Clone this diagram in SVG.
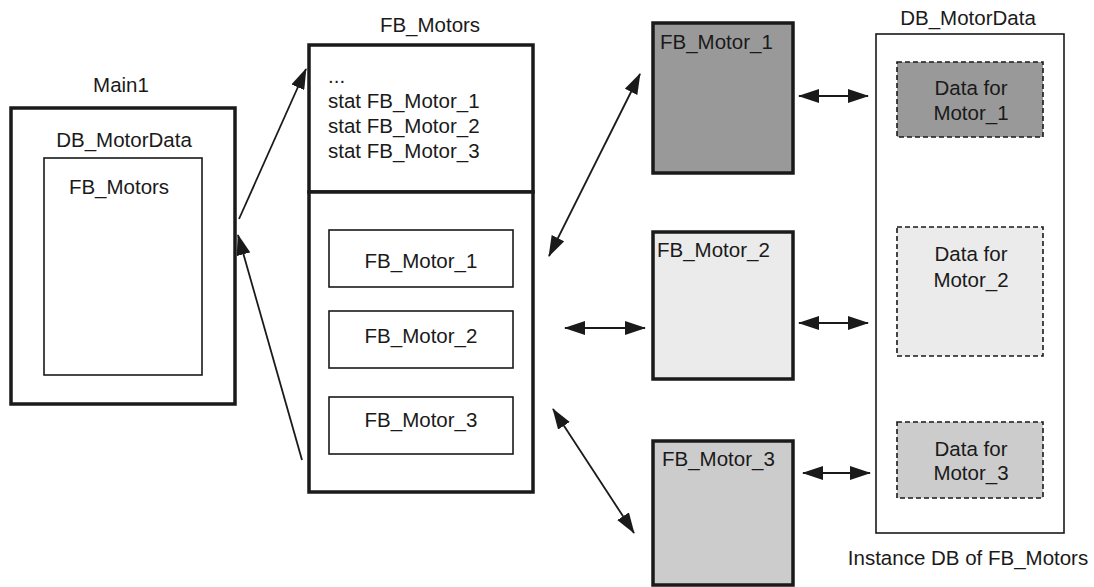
<svg xmlns="http://www.w3.org/2000/svg" width="1094" height="587" viewBox="0 0 1094 587">
<defs>
<style>
text{font-family:"Liberation Sans",Arial,sans-serif;font-size:20.5px;fill:#1a1a1a}
.c{text-anchor:middle}
.thick{fill:#fff;stroke:#1a1a1a;stroke-width:3.5}
.thin{fill:#fff;stroke:#1a1a1a;stroke-width:1.6}
.dash{stroke:#1a1a1a;stroke-width:1.6;stroke-dasharray:5 3}
.con{stroke:#1a1a1a;stroke-width:1.8;fill:none}
</style>
<marker id="ah" markerUnits="userSpaceOnUse" markerWidth="21" markerHeight="14" refX="20" refY="7" orient="auto-start-reverse" viewBox="0 0 21 14">
<path d="M0,0 L21,7 L0,14 Z" fill="#1a1a1a"/>
</marker>
</defs>
<rect width="1094" height="587" fill="#fff"/>

<g id="main1">
<text class="c" x="121" y="92">Main1</text>
<rect class="thick" x="11" y="108" width="224" height="296"/>
<text class="c" x="124" y="147">DB_MotorData</text>
<rect class="thin" x="44" y="158" width="158" height="217"/>
<text class="c" x="119" y="194">FB_Motors</text>
</g>

<g id="fb_motors">
<text class="c" x="430" y="32">FB_Motors</text>
<rect class="thick" x="309" y="45" width="224" height="147"/>
<rect class="thick" x="309" y="192" width="224" height="300"/>
<text x="328" y="83">...</text>
<text x="328" y="108">stat FB_Motor_1</text>
<text x="328" y="133">stat FB_Motor_2</text>
<text x="328" y="158">stat FB_Motor_3</text>
<g id="inst1"><rect class="thin" x="329" y="230" width="184" height="57"/><text class="c" x="421" y="268">FB_Motor_1</text></g>
<g id="inst2"><rect class="thin" x="329" y="311" width="184" height="57"/><text class="c" x="421" y="343">FB_Motor_2</text></g>
<g id="inst3"><rect class="thin" x="329" y="397" width="184" height="57"/><text class="c" x="421" y="427">FB_Motor_3</text></g>
</g>

<g id="fb_motor_1">
<rect class="thick" x="653" y="23" width="140" height="150" style="fill:#999999"/>
<text x="660" y="49">FB_Motor_1</text>
</g>
<g id="fb_motor_2">
<rect class="thick" x="653" y="232" width="140" height="147" style="fill:#ebebeb"/>
<text x="657" y="257">FB_Motor_2</text>
</g>
<g id="fb_motor_3">
<rect class="thick" x="653" y="441" width="140" height="144" style="fill:#cccccc"/>
<text x="662" y="466">FB_Motor_3</text>
</g>

<g id="db_motordata">
<text class="c" x="968" y="25">DB_MotorData</text>
<rect class="thin" x="876" y="34" width="188" height="499"/>
<g id="data1"><rect class="dash" x="897" y="62" width="146" height="75" fill="#999999"/><text class="c" x="971" y="95">Data for</text><text class="c" x="971" y="120">Motor_1</text></g>
<g id="data2"><rect class="dash" x="897" y="227" width="146" height="129" fill="#ebebeb"/><text class="c" x="971" y="261">Data for</text><text class="c" x="971" y="287">Motor_2</text></g>
<g id="data3"><rect class="dash" x="897" y="422" width="146" height="76" fill="#cccccc"/><text class="c" x="971" y="456">Data for</text><text class="c" x="971" y="480">Motor_3</text></g>
<text class="c" x="968" y="565">Instance DB of FB_Motors</text>
</g>

<g id="connectors">
<line class="con" x1="239" y1="219" x2="306" y2="69" marker-end="url(#ah)"/>
<line class="con" x1="302" y1="460" x2="238" y2="235" marker-end="url(#ah)"/>
<line class="con" x1="640" y1="74" x2="549" y2="256" marker-start="url(#ah)" marker-end="url(#ah)"/>
<line class="con" x1="565" y1="328" x2="645" y2="328" marker-start="url(#ah)" marker-end="url(#ah)"/>
<line class="con" x1="553" y1="409" x2="634" y2="533" marker-start="url(#ah)" marker-end="url(#ah)"/>
<line class="con" x1="799" y1="96" x2="868" y2="96" marker-start="url(#ah)" marker-end="url(#ah)"/>
<line class="con" x1="799" y1="323" x2="868" y2="323" marker-start="url(#ah)" marker-end="url(#ah)"/>
<line class="con" x1="803" y1="473" x2="870" y2="473" marker-start="url(#ah)" marker-end="url(#ah)"/>
</g>
</svg>
